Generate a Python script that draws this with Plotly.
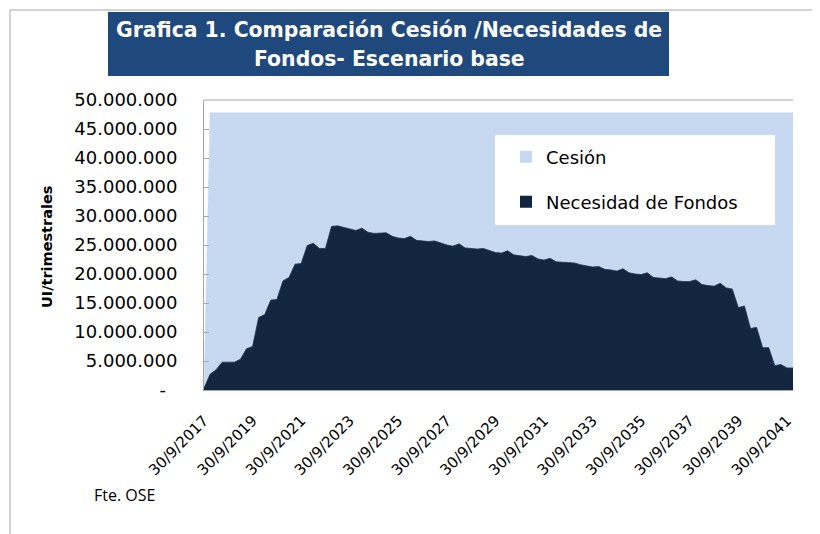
import plotly.graph_objects as go

# ---------------- data ----------------
# quarterly categories from 30/9/2017 to 31/12/2041
quarter_ends = ["31/3", "30/6", "30/9", "31/12"]
categories = []
for yr in range(2017, 2042):
    for q in quarter_ends:
        lab = f"{q}/{yr}"
        if yr == 2017 and q in ("31/3", "30/6"):
            continue
        categories.append(lab)

# values in millions of UI per quarter
necesidad_mill = [
    0.3, 2.7, 3.5, 4.8, 4.8, 4.8, 5.3, 7.1, 7.5, 12.5,
    13.0, 15.5, 15.6, 18.8, 19.4, 21.7, 21.8, 24.9, 25.3, 24.4,
    24.4, 28.2, 28.3, 28.0, 27.7, 27.5, 27.9, 27.2, 27.0, 27.0,
    27.1, 26.5, 26.2, 26.1, 26.5, 25.8, 25.7, 25.6, 25.7, 25.3,
    25.0, 24.8, 25.2, 24.5, 24.4, 24.3, 24.4, 24.0, 23.7, 23.6,
    24.0, 23.3, 23.1, 23.0, 23.2, 22.6, 22.4, 22.7, 22.1, 22.0,
    21.9, 21.9, 21.6, 21.4, 21.2, 21.3, 20.8, 20.7, 20.5, 20.9,
    20.2, 20.0, 19.9, 20.2, 19.4, 19.3, 19.2, 19.5, 18.8, 18.7,
    18.7, 19.0, 18.2, 18.0, 17.9, 18.4, 17.6, 17.4, 14.2, 14.5,
    10.6, 10.8, 7.3, 7.3, 4.2, 4.4, 3.8, 3.8,
]
cesion_mill = [
    0.0, 47.8, 47.8, 47.8, 47.8, 47.8, 47.8, 47.8, 47.8, 47.8,
    47.8, 47.8, 47.8, 47.8, 47.8, 47.8, 47.8, 47.8, 47.8, 47.8,
    47.8, 47.8, 47.8, 47.8, 47.8, 47.8, 47.8, 47.8, 47.8, 47.8,
    47.8, 47.8, 47.8, 47.8, 47.8, 47.8, 47.8, 47.8, 47.8, 47.8,
    47.8, 47.8, 47.8, 47.8, 47.8, 47.8, 47.8, 47.8, 47.8, 47.8,
    47.8, 47.8, 47.8, 47.8, 47.8, 47.8, 47.8, 47.8, 47.8, 47.8,
    47.8, 47.8, 47.8, 47.8, 47.8, 47.8, 47.8, 47.8, 47.8, 47.8,
    47.8, 47.8, 47.8, 47.8, 47.8, 47.8, 47.8, 47.8, 47.8, 47.8,
    47.8, 47.8, 47.8, 47.8, 47.8, 47.8, 47.8, 47.8, 47.8, 47.8,
    47.8, 47.8, 47.8, 47.8, 47.8, 47.8, 47.8, 47.8,
]
necesidad = [v * 1e6 for v in necesidad_mill]
cesion = [v * 1e6 for v in cesion_mill]

x_ticks = ["30/9/2017", "30/9/2019", "30/9/2021", "30/9/2023", "30/9/2025",
           "30/9/2027", "30/9/2029", "30/9/2031", "30/9/2033", "30/9/2035",
           "30/9/2037", "30/9/2039", "30/9/2041"]
y_tickvals = [0, 5e6, 10e6, 15e6, 20e6, 25e6, 30e6, 35e6, 40e6, 45e6, 50e6]
y_ticktext = ["-\u00a0\u00a0", "5.000.000", "10.000.000", "15.000.000", "20.000.000",
              "25.000.000", "30.000.000", "35.000.000", "40.000.000",
              "45.000.000", "50.000.000"]

title_lines = ["Grafica 1. Comparación Cesión /Necesidades de",
               "Fondos- Escenario base"]
series_names = ["Cesión", "Necesidad de Fondos"]

# ---------------- styling ----------------
PAGE_W, PAGE_H = 820, 534
OFF = 8  # page body margin in the browser
W, H = PAGE_W - OFF, PAGE_H - OFF
C_LIGHT = "#C6D9F0"
C_DARK = "#12263F"
C_TITLE = "#1F497D"
C_GRID = "#A6A6A6"
FONT = "DejaVu Sans"


def px(x):
    """page x pixel -> paper fraction"""
    return (x - OFF) / W


def py(y):
    """page y pixel -> paper fraction"""
    return 1 - (y - OFF) / H


fig = go.Figure()
fig.add_trace(go.Scatter(x=categories, y=cesion, mode="lines", fill="tozeroy",
                         fillcolor=C_LIGHT, line=dict(color=C_LIGHT, width=0.5),
                         showlegend=False, hoverinfo="skip"))
fig.add_trace(go.Scatter(x=categories, y=necesidad, mode="lines", fill="tozeroy",
                         fillcolor=C_DARK, line=dict(color="#1E3452", width=0.8),
                         showlegend=False, hoverinfo="skip"))

# legend-only entries with square keys
fig.add_trace(go.Scatter(x=[None], y=[None], mode="markers", name=series_names[0],
                         marker=dict(symbol="square", size=12, color=C_LIGHT),
                         legend="legend"))
fig.add_trace(go.Scatter(x=[None], y=[None], mode="markers", name=series_names[1],
                         marker=dict(symbol="square", size=12, color=C_DARK),
                         legend="legend2"))

legend_common = dict(bgcolor="rgba(0,0,0,0)", borderwidth=0,
                     font=dict(family=FONT, size=18, color="#000000"),
                     xanchor="left", yanchor="middle", itemwidth=30)

fig.update_layout(
    width=W, height=H,
    margin=dict(l=0, r=0, t=0, b=0, pad=0, autoexpand=False),
    paper_bgcolor="white", plot_bgcolor="white",
    xaxis=dict(domain=[px(204), px(793)], type="category",
               range=[0, len(categories) - 1], automargin=False,
               tickmode="array", tickvals=x_ticks, ticktext=x_ticks,
               tickangle=-45, ticks="", showgrid=False, zeroline=False,
               showline=True, linecolor=C_GRID, linewidth=1,
               tickfont=dict(family=FONT, size=15, color="#000000"),
               ticklabelstandoff=15),
    yaxis=dict(domain=[py(390), py(100)], range=[0, 50e6], automargin=False,
               tickmode="array", tickvals=y_tickvals, ticktext=y_ticktext,
               ticks="inside", ticklen=5, tickcolor=C_GRID,
               showgrid=False, zeroline=False,
               showline=True, linecolor=C_GRID, linewidth=1,
               tickfont=dict(family=FONT, size=18, color="#000000"),
               ticklabelstandoff=22),
    legend=dict(x=px(506), y=py(157), **legend_common),
    legend2=dict(x=px(506), y=py(202), **legend_common),
    showlegend=True,
)

shapes = [
    # outer chart border (top and left)
    dict(type="line", xref="paper", yref="paper", x0=px(10), x1=px(820), y0=py(10), y1=py(10),
         line=dict(color=C_GRID, width=1)),
    dict(type="line", xref="paper", yref="paper", x0=px(10), x1=px(10), y0=py(10), y1=py(534),
         line=dict(color=C_GRID, width=1)),
    # plot area top border
    dict(type="line", xref="paper", yref="paper", x0=px(204), x1=px(793), y0=py(100), y1=py(100),
         line=dict(color=C_GRID, width=1)),
    # title box
    dict(type="rect", xref="paper", yref="paper", x0=px(108), x1=px(669), y0=py(12), y1=py(76),
         fillcolor=C_TITLE, line=dict(width=0)),
    # legend box
    dict(type="rect", xref="paper", yref="paper", x0=px(495), x1=px(775), y0=py(135), y1=py(225),
         fillcolor="white", line=dict(width=0), layer="above"),
]
fig.update_layout(shapes=shapes)

annotations = [
    dict(text=title_lines[0], x=px(389), y=py(30), xref="paper", yref="paper",
         showarrow=False, xanchor="center", yanchor="middle",
         font=dict(family=FONT, size=20.4, color="white", weight="bold")),
    dict(text=title_lines[1], x=px(389), y=py(59), xref="paper", yref="paper",
         showarrow=False, xanchor="center", yanchor="middle",
         font=dict(family=FONT, size=20.4, color="white", weight="bold")),
    dict(text="UI/trimestrales", x=px(47), y=py(247), xref="paper", yref="paper",
         showarrow=False, textangle=-90, xanchor="center", yanchor="middle",
         font=dict(family=FONT, size=14.5, color="black", weight="bold")),
    dict(text="Fte. OSE", x=px(92), y=py(495), xref="paper", yref="paper",
         showarrow=False, xanchor="left", yanchor="middle",
         font=dict(family="Open Sans", size=16, color="black")),
]
fig.update_layout(annotations=annotations)

fig.write_html("out.html")
